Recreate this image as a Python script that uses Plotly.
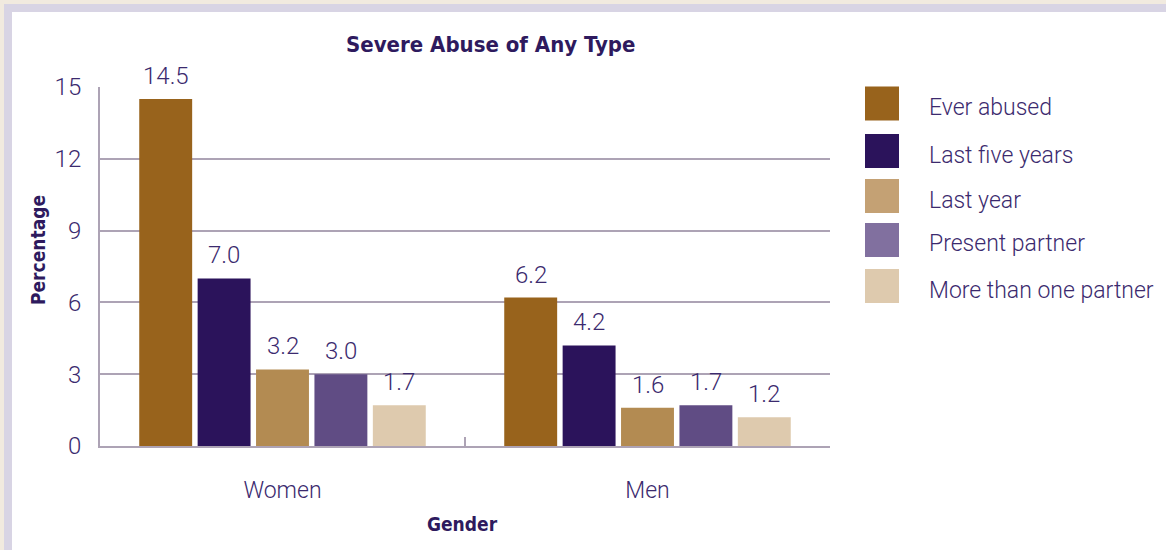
import plotly.graph_objects as go

categories = ["Women", "Men"]
series_names = ["Ever abused", "Last five years", "Last year", "Present partner", "More than one partner"]
ever_abused = [14.5, 6.2]
last_five_years = [7.0, 4.2]
last_year = [3.2, 1.6]
present_partner = [3.0, 1.7]
more_than_one = [1.7, 1.2]
series_values = [ever_abused, last_five_years, last_year, present_partner, more_than_one]
bar_colors = ["#98631C", "#2B135B", "#B38B52", "#604C84", "#DECAAE"]
legend_colors = ["#98631C", "#2B135B", "#C4A174", "#81709F", "#DECAAE"]
y_ticks = [0, 3, 6, 9, 12, 15]

W, H = 1166, 550
L, R, T, B = 100, 830, 87, 446
pw, ph = R - L, B - T
BARGAP, GROUPGAP = 0.2, 0.094

def px(x):
    return (x - L) / pw

def py(y):
    return (B - y) / ph

TXT = "#3B2A6E"
DARK = "#2E1A5E"
GRID = "#ADA3B5"
LIGHT_FONT = "Roboto"
BOLD_FONT = "Liberation Sans Narrow, DejaVu Sans Condensed, Roboto, sans-serif"

def bold_font(size):
    return dict(family=BOLD_FONT, size=size, color=DARK, weight="bold")

fig = go.Figure()
for name, vals, col in zip(series_names, series_values, bar_colors):
    fig.add_trace(go.Bar(
        x=categories, y=vals, name=name, marker=dict(color=col, line=dict(width=0)),
        showlegend=False, hoverinfo="skip",
    ))

shapes = [
    dict(type="rect", xref="paper", yref="paper", x0=px(4), x1=px(W + 20), y0=py(4), y1=py(H + 20),
         fillcolor="#D8D4E4", line=dict(width=0), layer="below"),
    dict(type="rect", xref="paper", yref="paper", x0=px(12), x1=px(W + 20), y0=py(12), y1=py(H + 20),
         fillcolor="white", line=dict(width=0), layer="below"),
]
annotations = [
    dict(text="Severe Abuse of Any Type", xref="paper", yref="paper", x=px(490), y=py(44),
         xanchor="center", yanchor="middle", showarrow=False, font=bold_font(22)),
    dict(text="Gender", xref="paper", yref="paper", x=px(462), y=py(524),
         xanchor="center", yanchor="middle", showarrow=False, font=bold_font(19)),
    dict(text="Percentage", xref="paper", yref="paper", x=px(38), y=py(250), textangle=-90,
         xanchor="center", yanchor="middle", showarrow=False, font=bold_font(19)),
]

# value labels above bars (anchored to data values on the axes)
cat_px = pw / len(categories)
slot = (1 - BARGAP) * cat_px / len(series_names)
for i, vals in enumerate(series_values):
    off = (i - (len(series_names) - 1) / 2) * slot
    for cat, v in zip(categories, vals):
        annotations.append(dict(text=f"{v:.1f}", xref="x", yref="y", x=cat, y=v,
                                xshift=off, yshift=23, xanchor="center", yanchor="middle",
                                showarrow=False,
                                font=dict(family=LIGHT_FONT, size=24, color=TXT, weight=300)))

leg_y = [103.5, 151, 196, 240, 286]
for name, col, yc in zip(series_names, legend_colors, leg_y):
    shapes.append(dict(type="rect", xref="paper", yref="paper", x0=px(865), x1=px(899),
                       y0=py(yc - 17), y1=py(yc + 17), fillcolor=col, line=dict(width=0)))
    annotations.append(dict(text=name, xref="paper", yref="paper", x=px(927), y=py(yc + 4),
                            xanchor="left", yanchor="middle", showarrow=False,
                            font=dict(family=LIGHT_FONT, size=23, color=TXT, weight=300)))

fig.update_layout(
    width=W, height=H,
    margin=dict(l=L, r=W - R, t=T, b=H - B, pad=0),
    paper_bgcolor="#F1EADF", plot_bgcolor="rgba(0,0,0,0)",
    barmode="group", bargap=BARGAP, bargroupgap=GROUPGAP,
    shapes=shapes, annotations=annotations, showlegend=False,
    xaxis=dict(showline=True, linecolor=GRID, linewidth=2, ticks="inside", tickson="boundaries",
               ticklen=9, tickwidth=2, tickcolor=GRID, showgrid=False,
               tickfont=dict(family=LIGHT_FONT, size=23, color=TXT, weight=300), ticklabelstandoff=22),
    yaxis=dict(range=[0, 15], tickvals=y_ticks, showline=True, linecolor=GRID, linewidth=2,
               showgrid=True, gridcolor=GRID, gridwidth=2, zeroline=False, ticks="",
               tickfont=dict(family=LIGHT_FONT, size=24, color=TXT, weight=300), ticklabelstandoff=12),
)
fig.write_html("out.html", config={"displayModeBar": False},
               post_script="document.body.style.margin='0';")
